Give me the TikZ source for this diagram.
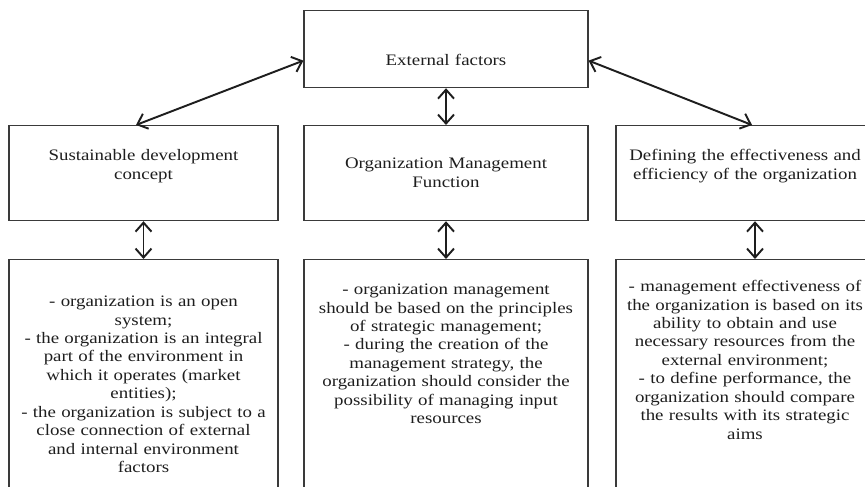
\documentclass[tikz,border=0pt]{standalone}
\usepackage{fontspec}
\setmainfont{Liberation Serif}[FakeStretch=1.18]
\usetikzlibrary{arrows.meta,positioning}
\definecolor{ink}{HTML}{1E1E1E}
\definecolor{frame}{HTML}{3A3A3A}
\colorlet{lnk}{ink}

\begin{document}
\begin{tikzpicture}[font=\fontsize{9.1}{10.5}\selectfont,
    box/.style={draw=frame,line width=0.7pt,text=ink,align=center,
      inner xsep=0pt,inner ysep=0pt,anchor=north},
    link/.style={lnk,line width=1.1pt,
      {Straight Barb[length=1.8mm,width=3.2mm]}-{Straight Barb[length=1.8mm,width=3.2mm]}}]
  \clip (0,0) rectangle (17.30,9.74);
  \node[box,text width=5.68cm,text height=1.10cm,text depth=0.44cm]
    (ext) at (8.92,9.54) {External factors};
  \node[box,text width=5.38cm,text height=0.70cm,text depth=1.20cm]
    (sdc) at (2.87,7.24) {Sustainable development\\concept};
  \node[box,text width=5.68cm,text height=0.86cm,text depth=1.04cm]
    (omf) at (8.92,7.24) {Organization Management\\Function};
  \node[box,text width=5.16cm,text height=0.70cm,text depth=1.20cm]
    (eff) at (14.90,7.24) {Defining the effectiveness and\\efficiency of the organization};
  \node[box,text width=5.38cm,text height=0.94cm,text depth=5cm]
    (sdcnote) at (2.87,4.56) {- organization is an open\\system;\\- the organization is an integral\\part of the environment in\\which it operates (market\\entities);\\- the organization is subject to a\\close connection of external\\and internal environment\\factors};
  \node[box,text width=5.68cm,text height=0.70cm,text depth=5cm]
    (omfnote) at (8.92,4.56) {- organization management\\should be based on the principles\\of strategic management;\\- during the creation of the\\management strategy, the\\organization should consider the\\possibility of managing input\\resources};
  \node[box,text width=5.16cm,text height=0.64cm,text depth=5cm]
    (effnote) at (14.90,4.56) {- management effectiveness of\\the organization is based on its\\ability to obtain and use\\necessary resources from the\\external environment;\\- to define performance, the\\organization should compare\\the results with its strategic\\aims};
  \draw[link] ([xshift=-1.5mm]sdc.north) -- ([yshift=-2.3mm]ext.west);
  \draw[link] ([yshift=-2.3mm]ext.east) -- ([xshift=1.4mm]eff.north);
  \draw[link] (ext.south) -- (omf.north);
  \draw[link] (sdc.south) -- (sdcnote.north);
  \draw[link] (omf.south) -- (omfnote.north);
  \draw[link] ([xshift=2mm]eff.south) -- ([xshift=2mm]effnote.north);
\end{tikzpicture}
\end{document}
